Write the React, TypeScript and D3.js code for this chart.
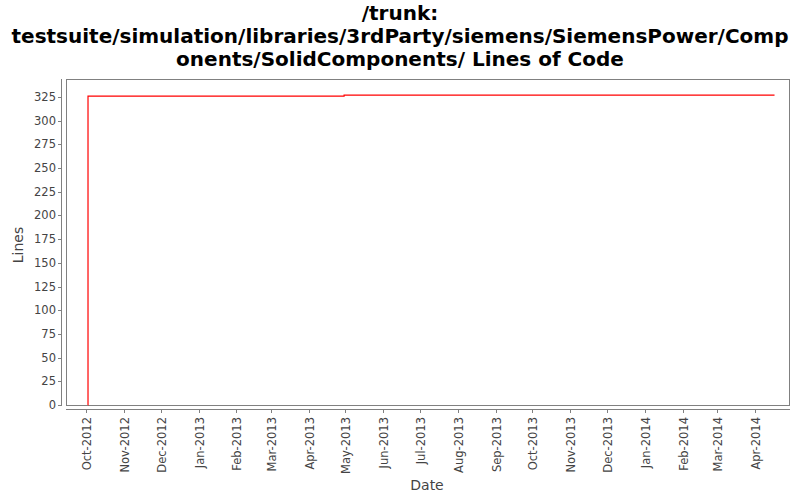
import React from "react";
import * as d3 from "d3";

const titleLines = [
  "/trunk:",
  "testsuite/simulation/libraries/3rdParty/siemens/SiemensPower/Comp",
  "onents/SolidComponents/ Lines of Code",
];

const dates = ["2012-10-02T12:00", "2012-10-02T14:00", "2013-04-30", "2014-04-17"];
const lines = [0, 326, 327, 327];

const yTicks = [0, 25, 50, 75, 100, 125, 150, 175, 200, 225, 250, 275, 300, 325];
const xTickLabels = [
  "Oct-2012", "Nov-2012", "Dec-2012", "Jan-2013", "Feb-2013", "Mar-2013", "Apr-2013",
  "May-2013", "Jun-2013", "Jul-2013", "Aug-2013", "Sep-2013", "Oct-2013", "Nov-2013",
  "Dec-2013", "Jan-2014", "Feb-2014", "Mar-2014", "Apr-2014",
];
const xTickDates = [
  "2012-10-01", "2012-11-01", "2012-12-01", "2013-01-01", "2013-02-01", "2013-03-01", "2013-04-01",
  "2013-05-01", "2013-06-01", "2013-07-01", "2013-08-01", "2013-09-01", "2013-10-01", "2013-11-01",
  "2013-12-01", "2014-01-01", "2014-02-01", "2014-03-01", "2014-04-01",
];
const xDomain = ["2012-09-14T14:00", "2014-04-28T20:00"];
const yDomain = [0, 344];

const parse = (s: string) => new Date(s.length > 10 ? s : s + "T00:00");

export default function App() {
  const left = 66, right = 789, top = 79, bottom = 405;
  const x = d3.scaleTime().domain(xDomain.map(parse)).range([left, right]);
  const y = d3.scaleLinear().domain(yDomain).range([bottom, top]);
  const pts: [Date, number][] = dates.map((d, i) => [parse(d), lines[i]]);
  const line = d3
    .line<[Date, number]>()
    .x((d) => x(d[0]))
    .y((d) => y(d[1]))
    .curve(d3.curveStepAfter);
  const font = "'DejaVu Sans', sans-serif";
  const axisColor = "#808080";
  const textColor = "#444";
  return (
    <svg width={800} height={500} style={{ position: "absolute", left: 0, top: 0, background: "#fff" }} fontFamily={font}>
      {titleLines.map((t, i) => (
        <text key={i} x={400} y={20 + i * 23} textAnchor="middle" fontSize={20} fontWeight="bold" fill="#000" fontFamily="'DejaVu Sans'">
          {t}
        </text>
      ))}
      <rect x={left + 0.5} y={top + 0.5} width={right - left} height={bottom - top} fill="#fff" stroke={axisColor} strokeWidth={1} />
      {/* y axis */}
      <line x1={61.5} x2={61.5} y1={top} y2={bottom + 1} stroke={axisColor} />
      {yTicks.map((t) => (
        <g key={t}>
          <line x1={58} x2={61.5} y1={Math.round(y(t)) + 0.5} y2={Math.round(y(t)) + 0.5} stroke={axisColor} />
          <text x={56} y={y(t) + 4} textAnchor="end" fontSize={11.5} fill={textColor}>
            {t}
          </text>
        </g>
      ))}
      {/* x axis */}
      <line x1={left} x2={right + 1} y1={409.5} y2={409.5} stroke={axisColor} />
      {xTickDates.map((d, i) => {
        const px = Math.round(x(parse(d))) + 0.5;
        return (
          <g key={d}>
            <line x1={px} x2={px} y1={409.5} y2={413} stroke={axisColor} />
            <text
              transform={`translate(${px + 4},${417}) rotate(-90)`}
              textAnchor="end"
              fontSize={11.5}
              fill={textColor}
            >
              {xTickLabels[i]}
            </text>
          </g>
        );
      })}
      <path d={line(pts) || ""} fill="none" stroke="#ff0000" strokeWidth={1.2} />
      <text x={427} y={490} textAnchor="middle" fontSize={14} fill={textColor}>
        Date
      </text>
      <text transform="translate(23,245) rotate(-90)" textAnchor="middle" fontSize={14} fill={textColor}>
        Lines
      </text>
    </svg>
  );
}
